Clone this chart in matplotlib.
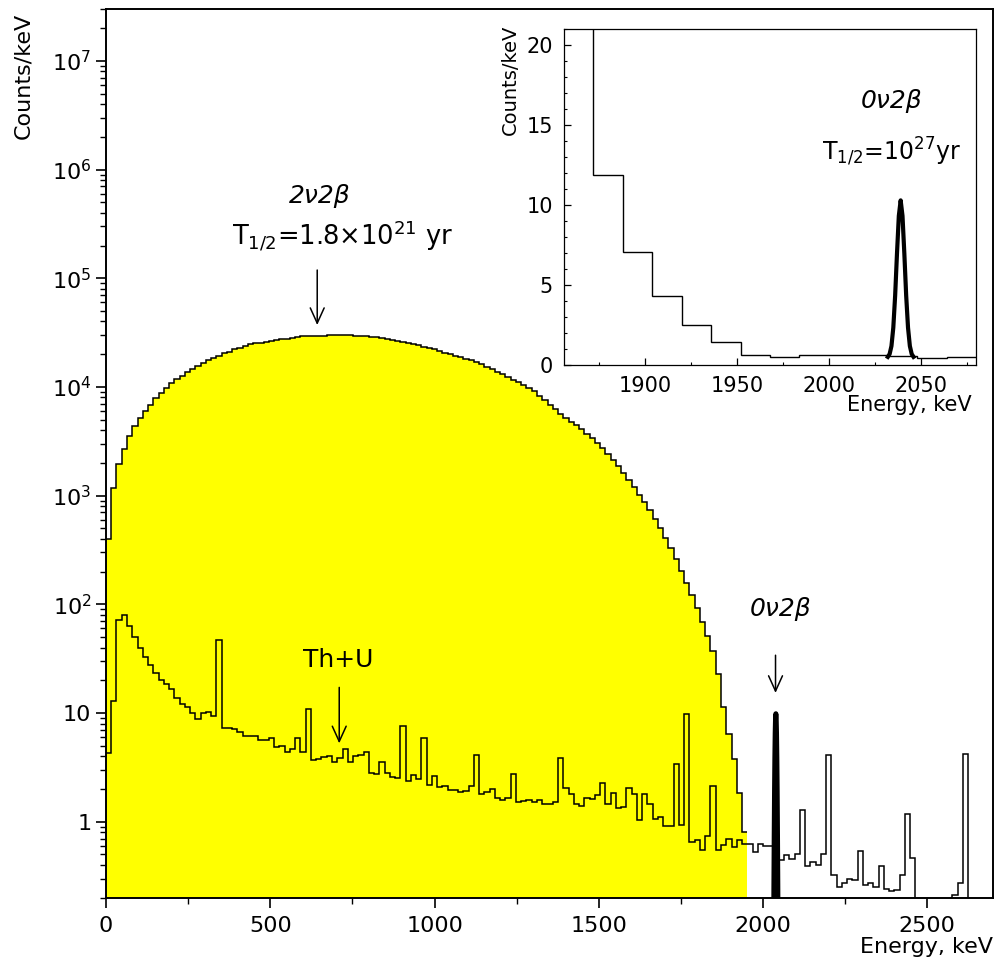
import numpy as np
import matplotlib
matplotlib.use('Agg')
import matplotlib.pyplot as plt
from matplotlib.ticker import MultipleLocator, FixedLocator, LogLocator, FuncFormatter, NullFormatter

# ---------------- data ----------------
bin_width_kev = 16

# 2nu2beta spectrum, counts/keV in 16 keV bins starting at 0 keV
twonu_counts = [
    400, 1170, 1940, 2700, 3520, 4370, 5180, 6040, 6820, 7860,
    8740, 9770, 10790, 11740, 12670, 13700, 14700, 15660, 16600, 17580,
    18340, 19370, 20370, 21080, 22180, 23000, 23900, 24650, 25150, 25600,
    26060, 26500, 26950, 27350, 27760, 28250, 28700, 29200, 29350, 29500,
    29600, 29700, 29800, 29850, 29870, 29850, 29750, 29600, 29400, 29200,
    28850, 28500, 28100, 27760, 27200, 26650, 26060, 25400, 24800, 24150,
    23500, 22850, 22180, 21400, 20650, 19930, 19350, 18800, 18250, 17680,
    16900, 16100, 15340, 14600, 13850, 13150, 12400, 11700, 11020, 10400,
    9780, 9160, 8320, 7550, 6850, 6240, 5690, 5210, 4790, 4420,
    4060, 3720, 3390, 3050, 2720, 2430, 2140, 1860, 1620, 1400,
    1200, 1020, 870, 730, 610, 500, 410, 330, 260, 204,
    158, 122, 92, 69, 51, 37, 23, 11.3, 6.35, 3.75,
    1.83, 0.81,
]

# Th+U background, counts/keV in 16 keV bins starting at 0 keV
bkg_counts = [
    4.3, 12.9, 71.8, 79.2, 63.2, 49.7, 39.9, 32.5, 27.7, 23.5,
    20.1, 18.4, 16.5, 13.6, 12.0, 11.3, 10.1, 8.8, 9.9, 10.2,
    9.4, 47.0, 7.35, 7.3, 7.2, 6.7, 6.2, 6.2, 6.2, 5.7,
    5.7, 5.85, 4.9, 5.0, 4.4, 4.65, 5.85, 4.4, 11.0, 3.7,
    3.75, 3.9, 4.0, 3.57, 3.83, 4.65, 3.57, 4.05, 4.1, 4.4,
    2.8, 2.73, 3.57, 2.83, 2.6, 2.5, 7.6, 2.38, 2.69, 2.47,
    5.93, 2.17, 2.65, 2.1, 2.13, 1.96, 1.96, 1.89, 1.9, 2.14,
    4.11, 1.8, 1.89, 1.98, 1.66, 1.6, 1.66, 2.74, 1.53, 1.56,
    1.58, 1.53, 1.6, 1.45, 1.45, 1.53, 3.83, 2.03, 1.8, 1.45,
    1.4, 1.64, 1.62, 1.76, 2.25, 1.45, 1.82, 1.35, 1.37, 2.03,
    1.78, 1.04, 1.78, 1.47, 1.06, 1.11, 0.92, 0.92, 3.37, 0.93,
    9.7, 0.65, 0.68, 0.55, 0.74, 2.14, 0.55, 0.61, 0.7, 0.59,
    0.68, 0.63, 0.63, 0.53, 0.62, 0.6, 0.6, 0.55, 0.44, 0.49,
    0.45, 0.5, 1.28, 0.39, 0.43, 0.4, 0.5, 4.1, 0.32, 0.25,
    0.27, 0.3, 0.29, 0.54, 0.26, 0.27, 0.25, 0.39, 0.24, 0.23,
    0.235, 0.32, 1.17, 0.46, 0, 0, 0, 0, 0, 0,
    0, 0.21, 0.27, 4.2, 0, 0, 0, 0, 0,
]

# 0nu2beta peak (inset, on top of the background level)
peak_energy = [2032, 2033, 2034, 2035, 2036, 2037, 2038, 2039,
               2040, 2041, 2042, 2043, 2044, 2045, 2046]
peak_counts = [0.51, 0.69, 1.19, 2.34, 4.34, 6.97, 9.33, 10.3,
               9.33, 6.97, 4.34, 2.34, 1.19, 0.69, 0.51]
peak_base_level = 0.45

inset_first_bin = 116
inset_last_bin = 129

main_xticks = [0, 500, 1000, 1500, 2000, 2500]
main_yticks = [1, 10, 1e2, 1e3, 1e4, 1e5, 1e6, 1e7]
inset_xticks = [1900, 1950, 2000, 2050]
inset_yticks = [0, 5, 10, 15, 20]

# ---------------- figure ----------------
plt.rcParams['font.family'] = ['DejaVu Sans']
plt.rcParams['mathtext.fontset'] = 'dejavusans'

fig = plt.figure(figsize=(9.96, 9.67), dpi=100)
ax = fig.add_axes([0.1064, 0.0717, 0.8906, 0.9190])

twonu = np.array(twonu_counts, dtype=float)
bkg = np.array(bkg_counts, dtype=float)
edges_2nu = np.arange(len(twonu) + 1) * bin_width_kev
edges_bkg = np.arange(len(bkg) + 1) * bin_width_kev

ax.stairs(twonu, edges_2nu, fill=True, color='#ffff00', baseline=1e-3,
          zorder=1, linewidth=0)
ax.stairs(twonu, edges_2nu, color='black', lw=1.1, baseline=None, zorder=2)
bkg_draw = np.where(bkg > 0, bkg, 1e-2)
ax.stairs(bkg_draw, edges_bkg, color='black', lw=1.1, baseline=None, zorder=3)

pe = np.array(peak_energy, dtype=float)
pc = np.array(peak_counts, dtype=float)
ax.plot(pe, np.clip(pc - peak_base_level, 1e-3, None), color='black', lw=3.6,
        zorder=4)

ax.set_yscale('log')
ax.set_xlim(0, 2700)
ax.set_ylim(0.2, 3e7)


def ylab(v, pos):
    e = int(round(np.log10(v)))
    if e == 0:
        return '1'
    if e == 1:
        return '10'
    return r'$\mathregular{10^{%d}}$' % e


ax.yaxis.set_major_locator(FixedLocator(main_yticks))
ax.yaxis.set_minor_locator(LogLocator(base=10, subs=np.arange(2, 10), numticks=20))
ax.yaxis.set_major_formatter(FuncFormatter(ylab))
ax.yaxis.set_minor_formatter(NullFormatter())
ax.set_xticks(main_xticks)
ax.xaxis.set_minor_locator(MultipleLocator(250))
ax.tick_params(axis='both', which='major', direction='out', length=7.5, width=1.2,
               labelsize=16, top=False, right=False)
ax.tick_params(axis='both', which='minor', direction='out', length=4, width=1.0,
               top=False, right=False)
ax.tick_params(axis='x', which='major', pad=6)
ax.tick_params(axis='y', which='major', pad=3)
for s in ax.spines.values():
    s.set_linewidth(1.4)

ax.text(-0.0935, 0.9955, 'Counts/keV', rotation=90, transform=ax.transAxes,
        ha='center', va='top', fontsize=16)
ax.text(1.0, -0.0555, 'Energy, keV', transform=ax.transAxes,
        ha='right', va='center', fontsize=16)

arrow_kw = dict(arrowstyle='->,head_length=0.55,head_width=0.25', lw=1.1,
                color='black', shrinkA=0, shrinkB=0, mutation_scale=20)

ax.text(650, 4.9e5, '2ν2β', style='italic', fontsize=18, ha='center', va='baseline')
ax.text(720, 2.02e5, r'T$_{1/2}$=1.8$\times$10$^{21}$ yr', fontsize=18.5,
        ha='center', va='baseline')
ax.annotate('', xy=(643, 3.71e4), xytext=(643, 1.19e5), arrowprops=arrow_kw)

ax.text(707, 26.7, 'Th+U', fontsize=18, ha='center', va='baseline')
ax.annotate('', xy=(710, 5.26), xytext=(710, 17.2), arrowprops=arrow_kw)

ax.text(2055, 78, '0ν2β', style='italic', fontsize=18, ha='center', va='baseline')
ax.annotate('', xy=(2038, 15.3), xytext=(2038, 34), arrowprops=arrow_kw)

# ---------------- inset ----------------
ax2 = fig.add_axes([0.5663, 0.6225, 0.4137, 0.3472])
ax2.set_facecolor('white')
total = bkg.copy()
total[:len(twonu)] += twonu
sl = slice(inset_first_bin, inset_last_bin + 1)
ax2.stairs(total[sl], edges_bkg[inset_first_bin:inset_last_bin + 2],
           color='black', lw=1.0, baseline=None)
ax2.plot(pe, pc, color='black', lw=3.0)
ax2.set_xlim(1856, 2080)
ax2.set_ylim(0, 21)
ax2.set_xticks(inset_xticks)
ax2.set_yticks(inset_yticks)
ax2.xaxis.set_minor_locator(MultipleLocator(25))
ax2.yaxis.set_minor_locator(MultipleLocator(1))
ax2.tick_params(axis='both', which='major', direction='in', length=5, width=0.9,
                labelsize=15, pad=8, top=False, right=False)
ax2.tick_params(axis='both', which='minor', direction='in', length=2.5, width=0.8,
                top=False, right=False)
for s in ax2.spines.values():
    s.set_linewidth(0.9)

ax2.text(-0.131, 1.0128, 'Counts/keV', rotation=90, transform=ax2.transAxes,
         ha='center', va='top', fontsize=14)
ax2.text(0.9896, -0.119, 'Energy, keV', transform=ax2.transAxes,
         ha='right', va='center', fontsize=15)
ax2.text(2034, 16.1, '0ν2β', style='italic', fontsize=18, ha='center', va='baseline')
ax2.text(2034, 12.86, r'T$_{1/2}$=10$^{27}$yr', fontsize=17, ha='center',
         va='baseline')

fig.savefig('out.png', dpi=100)
